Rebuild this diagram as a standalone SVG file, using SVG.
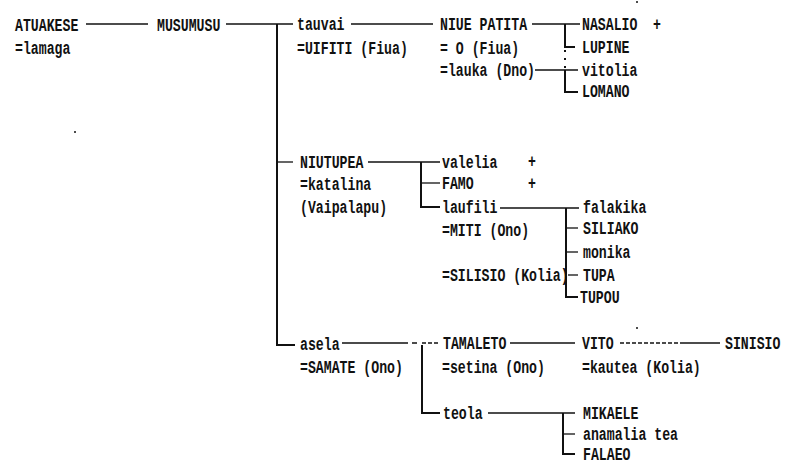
<svg xmlns="http://www.w3.org/2000/svg" width="790" height="472" viewBox="0 0 790 472">
<style>
text{font-family:"Liberation Mono","DejaVu Sans Mono",monospace;font-size:13.2px;font-weight:bold;fill:#111}
.h{stroke:#111;stroke-width:1.3;fill:none}
.v{stroke:#111;stroke-width:2;fill:none}
.d{stroke:#111;stroke-width:1.3;fill:none;stroke-dasharray:4 2}
.dv{stroke:#111;stroke-width:2;fill:none;stroke-dasharray:2 6}
</style>
<rect width="790" height="472" fill="#fff"/>
<g id="connectors">
<path class="h" d="M86 24H148"/>
<path class="h" d="M226 24H293"/>
<path class="v" d="M277 24V345H295"/>
<path class="h" d="M351 24H433"/>
<path class="h" d="M532 24H580"/>
<path class="v" d="M565 24V47H575"/>
<path class="dv" d="M565 50V68"/>
<path class="h" d="M535 70H578"/>
<path class="v" d="M565 70V92H578"/>
<path class="h" d="M278 162H293"/>
<path class="h" d="M368 162H440"/>
<path class="v" d="M421 162V207H440"/>
<path class="h" d="M421 183H440"/>
<path class="h" d="M500 208H579"/>
<path class="v" d="M566 208V297H578"/>
<path class="h" d="M566 228H578"/>
<path class="h" d="M566 252H578"/>
<path class="h" d="M568 275H578"/>
<path class="h" d="M342 343H408M412 343H417"/>
<path class="v" d="M422 345V413H440"/>
<path class="d" d="M422 343H440"/>
<path class="h" d="M510 343H575"/>
<path class="d" d="M620 343H680"/>
<path class="h" d="M680 343H720"/>
<path class="h" d="M488 413H575"/>
<path class="v" d="M563 413V454H575"/>
<path class="h" d="M563 434H575"/>
</g>
<g id="n-atuakese"><text transform="translate(15 31) scale(1 1.4)">ATUAKESE</text><text transform="translate(15 54) scale(1 1.4)">=lamaga</text></g>
<g id="n-musumusu"><text transform="translate(157 31) scale(1 1.4)">MUSUMUSU</text></g>
<g id="n-tauvai"><text transform="translate(297 30) scale(1 1.4)">tauvai</text><text transform="translate(297 54) scale(1 1.4)">=UIFITI (Fiua)</text></g>
<g id="n-niue"><text transform="translate(440 30) scale(1 1.4)">NIUE PATITA</text><text transform="translate(440 54) scale(1 1.4)">= O (Fiua)</text><text transform="translate(440 76) scale(1 1.4)">=lauka (Dno)</text></g>
<g id="n-nasalio"><text transform="translate(582 30) scale(1 1.4)">NASALIO</text><text transform="translate(653 30) scale(1 1.4)">+</text></g>
<g id="n-lupine"><text transform="translate(582 53) scale(1 1.4)">LUPINE</text></g>
<g id="n-vitolia"><text transform="translate(582 76) scale(1 1.4)">vitolia</text></g>
<g id="n-lomano"><text transform="translate(582 97) scale(1 1.4)">LOMANO</text></g>
<g id="n-niutupea"><text transform="translate(300 168) scale(1 1.4)">NIUTUPEA</text><text transform="translate(300 190) scale(1 1.4)">=katalina</text><text transform="translate(300 213) scale(1 1.4)">(Vaipalapu)</text></g>
<g id="n-valelia"><text transform="translate(442 168) scale(1 1.4)">valelia</text><text transform="translate(528 167) scale(1 1.4)">+</text></g>
<g id="n-famo"><text transform="translate(442 189) scale(1 1.4)">FAMO</text><text transform="translate(528 189) scale(1 1.4)">+</text></g>
<g id="n-laufili"><text transform="translate(442 213) scale(1 1.4)">laufili</text><text transform="translate(442 236) scale(1 1.4)">=MITI (Ono)</text><text transform="translate(442 281) scale(1 1.4)">=SILISIO (Kolia)</text></g>
<g id="n-falakika"><text transform="translate(583 213) scale(1 1.4)">falakika</text></g>
<g id="n-siliako"><text transform="translate(583 234) scale(1 1.4)">SILIAKO</text></g>
<g id="n-monika"><text transform="translate(583 258) scale(1 1.4)">monika</text></g>
<g id="n-tupa"><text transform="translate(583 281) scale(1 1.4)">TUPA</text></g>
<g id="n-tupou"><text transform="translate(580 303) scale(1 1.4)">TUPOU</text></g>
<g id="n-asela"><text transform="translate(300 350) scale(1 1.4)">asela</text><text transform="translate(300 373) scale(1 1.4)">=SAMATE (Ono)</text></g>
<g id="n-tamaleto"><text transform="translate(443 349) scale(1 1.4)">TAMALETO</text><text transform="translate(442 373) scale(1 1.4)">=setina (Ono)</text></g>
<g id="n-vito"><text transform="translate(582 349) scale(1 1.4)">VITO</text><text transform="translate(582 373) scale(1 1.4)">=kautea (Kolia)</text></g>
<g id="n-sinisio"><text transform="translate(725 349) scale(1 1.4)">SINISIO</text></g>
<g id="n-teola"><text transform="translate(443 419) scale(1 1.4)">teola</text></g>
<g id="n-mikaele"><text transform="translate(583 419) scale(1 1.4)">MIKAELE</text></g>
<g id="n-anamalia"><text transform="translate(583 440) scale(1 1.4)">anamalia tea</text></g>
<g id="n-falaeo"><text transform="translate(583 460) scale(1 1.4)">FALAEO</text></g>
<g fill="#111"><circle cx="75" cy="132" r="1"/><circle cx="637" cy="328" r="1"/><circle cx="637" cy="2" r="1"/></g>
</svg>
